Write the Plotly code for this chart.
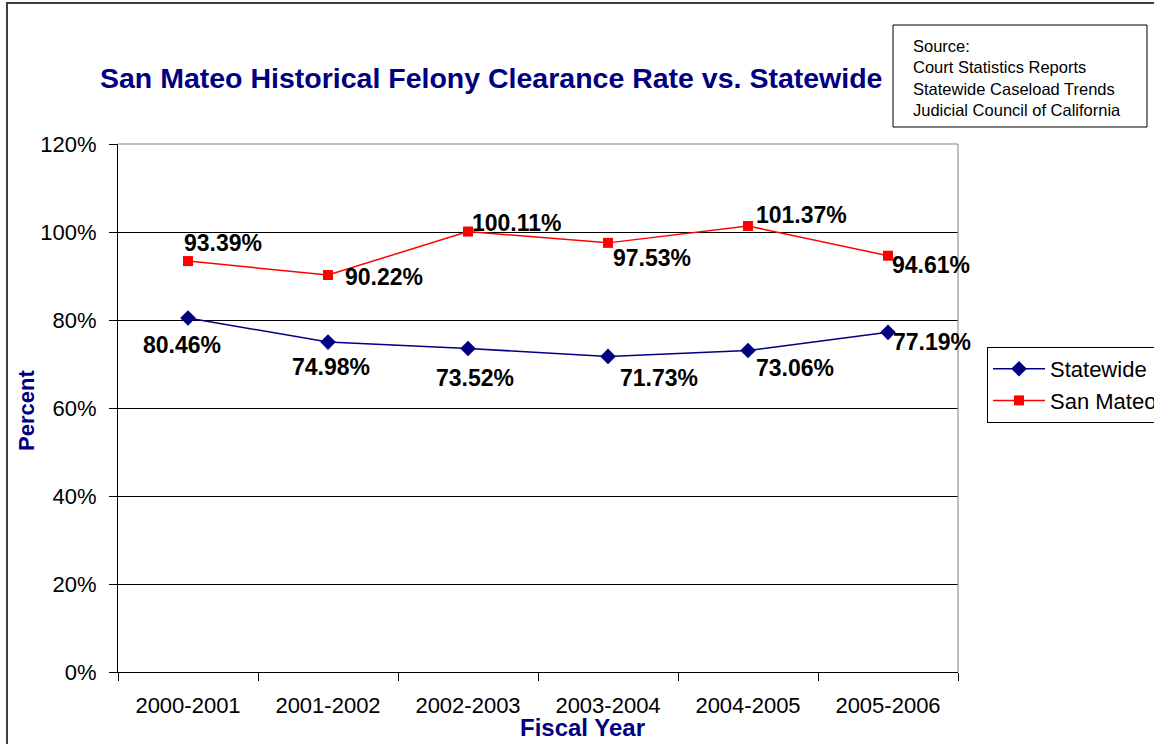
import plotly.graph_objects as go

categories = ["2000-2001", "2001-2002", "2002-2003", "2003-2004", "2004-2005", "2005-2006"]
statewide = [80.46, 74.98, 73.52, 71.73, 73.06, 77.19]
san_mateo = [93.39, 90.22, 100.11, 97.53, 101.37, 94.61]
y_ticks = [0, 20, 40, 60, 80, 100, 120]
y_tick_labels = ["0%", "20%", "40%", "60%", "80%", "100%", "120%"]

# label offsets (pixels) for data labels
sw_offsets = [(-6, -27), (3, -25), (7, -29), (51, -22), (47, -17), (44, -10)]
sm_offsets = [(35, 18), (56, -2), (49, 9), (44, -15), (53, 11), (43, -9)]

FONT = "Liberation Sans, Arial, sans-serif"
NAVY = "#000080"

# page pixel -> paper coords (plot area spans page x 118..958, y 144..672)
def px(x):
    return (x - 118) / 840

def py(y):
    return (672 - y) / 528

fig = go.Figure()
fig.add_trace(go.Scatter(
    x=categories, y=statewide, mode="lines+markers", name="Statewide",
    line=dict(color=NAVY, width=1.5),
    marker=dict(symbol="diamond", size=12, color=NAVY),
))
fig.add_trace(go.Scatter(
    x=categories, y=san_mateo, mode="lines+markers", name="San Mateo",
    line=dict(color="#FF0000", width=1.5),
    marker=dict(symbol="square", size=10, color="#FF0000"),
))

annotations = []
for c, v, (dx, dy) in zip(categories, statewide, sw_offsets):
    annotations.append(dict(x=c, y=v, xref="x", yref="y", text=f"{v:.2f}%",
                            showarrow=False, xshift=dx, yshift=dy,
                            font=dict(family=FONT, size=23, color="black", weight="bold")))
for c, v, (dx, dy) in zip(categories, san_mateo, sm_offsets):
    annotations.append(dict(x=c, y=v, xref="x", yref="y", text=f"{v:.2f}%",
                            showarrow=False, xshift=dx, yshift=dy,
                            font=dict(family=FONT, size=23, color="black", weight="bold")))

# Title
annotations.append(dict(x=px(491), y=py(78), xref="paper", yref="paper",
                        text="San Mateo Historical Felony Clearance Rate vs. Statewide",
                        showarrow=False, xanchor="center", yanchor="middle",
                        font=dict(family=FONT, size=28.5, color=NAVY, weight="bold")))
# Source text (box drawn as shape)
annotations.append(dict(x=px(911), y=py(78), xref="paper", yref="paper",
                        text="Source:<br>Court Statistics Reports<br>Statewide Caseload Trends<br>Judicial Council of California",
                        showarrow=False, xanchor="left", yanchor="middle", align="left",
                        font=dict(family=FONT, size=16.5, color="black")))
# Axis titles
annotations.append(dict(x=px(27), y=py(411), xref="paper", yref="paper",
                        text="Percent", textangle=-90, showarrow=False,
                        xanchor="center", yanchor="middle",
                        font=dict(family=FONT, size=22, color=NAVY, weight="bold")))
annotations.append(dict(x=px(582), y=py(727), xref="paper", yref="paper",
                        text="Fiscal Year", showarrow=False,
                        xanchor="center", yanchor="middle",
                        font=dict(family=FONT, size=24, color=NAVY, weight="bold")))

fig.update_layout(
    width=1154, height=744,
    margin=dict(l=118, r=196, t=144, b=72, autoexpand=False),
    paper_bgcolor="white", plot_bgcolor="white",
    showlegend=True,
    legend=dict(x=px(987), y=py(347), xanchor="left", yanchor="top",
                bordercolor="black", borderwidth=1, bgcolor="white",
                itemwidth=52,
                font=dict(family=FONT, size=22, color="black")),
    annotations=annotations,
    shapes=[
        # outer chart-area border
        dict(type="rect", xref="paper", yref="paper",
             x0=px(7), x1=1.4, y0=-0.3, y1=py(3),
             line=dict(color="#404040", width=2), layer="below"),
        # source box
        dict(type="rect", xref="paper", yref="paper",
             x0=px(893), x1=px(1147), y0=py(127), y1=py(25),
             line=dict(color="black", width=1), fillcolor="white", layer="below"),
        # plot-area top/right edges in gray
        dict(type="line", xref="paper", yref="paper", x0=0, x1=1, y0=1, y1=1,
             line=dict(color="#808080", width=1)),
        dict(type="line", xref="paper", yref="paper", x0=1, x1=1, y0=0, y1=1,
             line=dict(color="#808080", width=1)),
    ],
)

fig.update_xaxes(
    type="category", range=[-0.5, 5.5],
    showline=True, linecolor="black", linewidth=1,
    ticks="outside", tickson="boundaries", ticklen=8, tickcolor="black",
    ticklabelstandoff=14,
    showgrid=False, zeroline=False,
    tickfont=dict(family=FONT, size=22, color="black"),
)
fig.update_yaxes(
    range=[0, 120], tickvals=y_ticks, ticktext=y_tick_labels,
    showline=True, linecolor="black", linewidth=1,
    ticks="outside", ticklen=8, tickcolor="black",
    ticklabelstandoff=8,
    showgrid=True, gridcolor="black", gridwidth=1, zeroline=False,
    tickfont=dict(family=FONT, size=22, color="black"),
)

fig.write_html("out.html",
               config={"displayModeBar": False},
               post_script="document.body.style.margin='0';document.body.style.overflow='hidden';")
